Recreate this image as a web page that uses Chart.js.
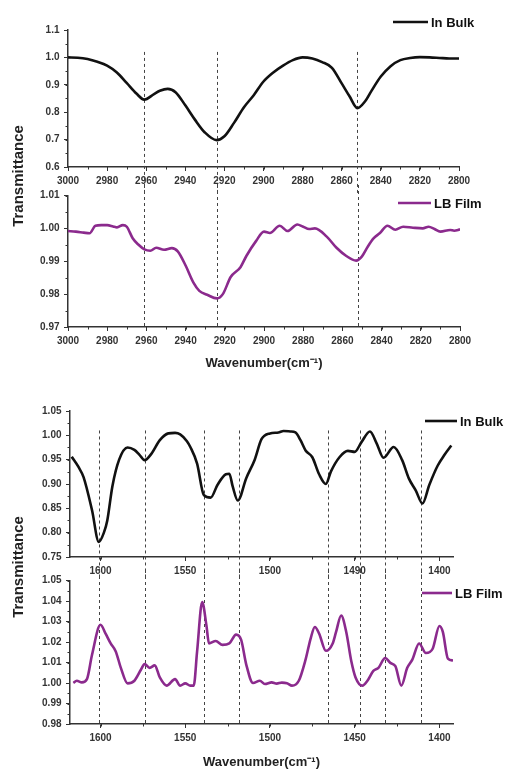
<!DOCTYPE html>
<html>
<head>
<meta charset="utf-8">
<title>FTIR Transmittance</title>
<script src="https://cdn.jsdelivr.net/npm/chart.js@4.4.0/dist/chart.umd.min.js"></script>
<style>
html, body { margin: 0; padding: 0; background: #fff; }
#wrap { position: relative; width: 506px; height: 772px; overflow: hidden; }
canvas { position: absolute; left: 0; }
.ylab {
  position: absolute;
  font: bold 15px "Liberation Sans", Arial, sans-serif;
  color: #222;
  white-space: nowrap;
  transform: translate(-50%, -50%) rotate(-90deg);
}
</style>
</head>
<body>
<div id="wrap">
  <canvas id="c1" width="506" height="200" style="top:0px"></canvas>
  <canvas id="c2" width="506" height="190" style="top:185px"></canvas>
  <canvas id="c3" width="506" height="195" style="top:390px"></canvas>
  <canvas id="c4" width="506" height="202" style="top:570px"></canvas>
  <div class="ylab" style="left:17px; top:176px">Transmittance</div>
  <div class="ylab" style="left:17px; top:567px">Transmittance</div>
</div>

<script>
// --- data ---
const bulkHighWn = [3000, 2995, 2990, 2985, 2980, 2975, 2970, 2965, 2961, 2956, 2953, 2949, 2945, 2940, 2935, 2930, 2924, 2920, 2915, 2910, 2905, 2900, 2895, 2890, 2885, 2880, 2875, 2870, 2865, 2860, 2856, 2852, 2848, 2845, 2840, 2835, 2830, 2825, 2820, 2815, 2810, 2805, 2800];
const bulkHighT  = [1.000, 0.999, 0.994, 0.984, 0.970, 0.945, 0.907, 0.868, 0.846, 0.866, 0.878, 0.885, 0.873, 0.825, 0.772, 0.726, 0.698, 0.712, 0.762, 0.818, 0.862, 0.912, 0.945, 0.970, 0.990, 1.000, 0.996, 0.983, 0.962, 0.905, 0.858, 0.815, 0.840, 0.875, 0.930, 0.968, 0.990, 0.998, 1.001, 1.000, 0.998, 0.996, 0.996];

const lbHighWn = [3000, 2996, 2992, 2989, 2986, 2983, 2980, 2977, 2975, 2972, 2970, 2967, 2964, 2961, 2958, 2955, 2951, 2947, 2944, 2940, 2936, 2933, 2929, 2924, 2921, 2917, 2912, 2909, 2904, 2900, 2897, 2892, 2888, 2883, 2880, 2877, 2874, 2868, 2863, 2858, 2853, 2850, 2847, 2844, 2841, 2837, 2833, 2829, 2824, 2819, 2816, 2813, 2810, 2805, 2803, 2800];
const lbHighT  = [0.9992, 0.9990, 0.9987, 0.9985, 1.0008, 1.0010, 1.0010, 1.0006, 1.0003, 1.0010, 1.0005, 0.9970, 0.9950, 0.9936, 0.9932, 0.9941, 0.9935, 0.9940, 0.9930, 0.9887, 0.9835, 0.9810, 0.9798, 0.9787, 0.9800, 0.9852, 0.9882, 0.9916, 0.9962, 0.9990, 0.9986, 1.0008, 0.9992, 1.0012, 1.0005, 0.9998, 1.0000, 0.9975, 0.9941, 0.9916, 0.9902, 0.9915, 0.9945, 0.9970, 0.9985, 1.0008, 0.9996, 1.0005, 1.0002, 1.0000, 1.0005, 0.9998, 0.9990, 0.9995, 0.9993, 0.9997];

const bulkLowWn = [1617, 1613, 1610, 1605, 1601, 1598, 1596, 1593, 1589, 1584, 1580, 1577, 1574, 1570, 1565, 1560, 1556, 1553, 1549, 1547, 1543, 1539, 1535, 1531, 1526, 1524, 1522, 1519, 1514, 1509, 1505, 1500, 1495, 1492, 1488, 1485, 1482, 1479, 1475, 1471, 1467, 1464, 1459, 1454, 1450, 1446, 1441, 1437, 1433, 1427, 1422, 1418, 1414, 1410, 1406, 1401, 1397, 1393];
const bulkLowT  = [0.956, 0.935, 0.914, 0.846, 0.781, 0.800, 0.825, 0.895, 0.950, 0.975, 0.970, 0.960, 0.949, 0.962, 0.990, 1.004, 1.005, 1.002, 0.988, 0.976, 0.942, 0.877, 0.872, 0.898, 0.920, 0.921, 0.895, 0.866, 0.912, 0.950, 0.992, 1.004, 1.006, 1.009, 1.008, 1.006, 0.990, 0.969, 0.955, 0.920, 0.900, 0.926, 0.955, 0.968, 0.966, 0.986, 1.008, 0.983, 0.954, 0.976, 0.949, 0.911, 0.887, 0.860, 0.898, 0.938, 0.960, 0.979];

const lbLowWn = [1616, 1614, 1611, 1608, 1605, 1600, 1597, 1594, 1591, 1588, 1584, 1580, 1576, 1574, 1571, 1568, 1565, 1561, 1556, 1553, 1550, 1547, 1545, 1543, 1540, 1537.5, 1536, 1532, 1528, 1524, 1520, 1517, 1514, 1510, 1506, 1503, 1499, 1496, 1493, 1490, 1487, 1483, 1479, 1476, 1473.5, 1471, 1467, 1463, 1461, 1458, 1455, 1452, 1449.5, 1445.5, 1442.5, 1439, 1436, 1432, 1429, 1426, 1422.5, 1419, 1416, 1412, 1408, 1404, 1400, 1398, 1395, 1392];
const lbLowT  = [1.0000, 1.0011, 1.0003, 1.0019, 1.0138, 1.0284, 1.0241, 1.0193, 1.0154, 1.0074, 0.9998, 1.0011, 1.0067, 1.0093, 1.0074, 1.0086, 1.0027, 0.9987, 1.0019, 0.9987, 0.9998, 0.9987, 0.9987, 1.0154, 1.0395, 1.0281, 1.0193, 1.0205, 1.0186, 1.0193, 1.0236, 1.0210, 1.0090, 1.0000, 1.0011, 0.9995, 1.0003, 0.9997, 1.0002, 0.9999, 0.9987, 1.0011, 1.0114, 1.0217, 1.0273, 1.0241, 1.0157, 1.0193, 1.0249, 1.0329, 1.0249, 1.0106, 1.0027, 0.9987, 1.0011, 1.0059, 1.0074, 1.0122, 1.0098, 1.0082, 0.9987, 1.0074, 1.0114, 1.0193, 1.0146, 1.0167, 1.0278, 1.0249, 1.0119, 1.0110];

// dashed marker positions (cm-1)
const highGuides = [2961, 2924, 2852];
const lowGuides = [1601, 1574, 1539, 1518, 1466, 1447, 1432, 1411];

// tick labels of the low-range bulk panel, as printed
const lowTickValues = [1600, 1550, 1500, 1450, 1400];
const bulkLowTickLabels = ['1600', '1550', '1500', '1490', '1400'];

// --- plugins ---
const FONT = '"Liberation Sans", Arial, sans-serif';
Chart.defaults.font.family = FONT;

const minorTicks = {
  id: 'minorTicks',
  afterDraw(chart, args, o) {
    const ctx = chart.ctx;
    ctx.save();
    ctx.strokeStyle = '#333';
    ctx.lineWidth = 1;
    ['x', 'y'].forEach(k => {
      const step = o[k];
      if (!step) return;
      const s = chart.scales[k];
      const a = Math.ceil(s.min / step - 1e-6), b = Math.floor(s.max / step + 1e-6);
      for (let i = a; i <= b; i++) {
        const p = Math.round(s.getPixelForValue(i * step)) + 0.5;
        ctx.beginPath();
        if (k === 'x') { ctx.moveTo(p, s.top); ctx.lineTo(p, s.top + 2.5); }
        else { ctx.moveTo(s.right, p); ctx.lineTo(s.right - 2.5, p); }
        ctx.stroke();
      }
    });
    ctx.restore();
  }
};

const guides = {
  id: 'guides',
  beforeDatasetsDraw(chart, args, o) {
    if (!o.values) return;
    const { ctx, chartArea } = chart;
    const xs = chart.scales.x, ys = chart.scales.y;
    const y1 = o.from == null ? 0 : ys.getPixelForValue(o.from);
    const y2 = chartArea.bottom + (o.below || 0);
    ctx.save();
    ctx.setLineDash([3, 3]);
    ctx.strokeStyle = '#444';
    ctx.lineWidth = 1;
    o.values.forEach(v => {
      const x = Math.round(xs.getPixelForValue(v)) + 0.5;
      ctx.beginPath();
      ctx.moveTo(x, y1);
      ctx.lineTo(x, y2);
      ctx.stroke();
    });
    ctx.restore();
  }
};

const tag = {
  id: 'tag',
  afterDraw(chart, args, o) {
    if (o.y == null) return;
    const ds = chart.data.datasets[0];
    const ctx = chart.ctx;
    ctx.save();
    ctx.strokeStyle = ds.borderColor;
    ctx.lineWidth = 2.6;
    ctx.beginPath();
    ctx.moveTo(o.x1, o.y);
    ctx.lineTo(o.x2, o.y);
    ctx.stroke();
    ctx.fillStyle = '#111';
    ctx.font = 'bold 13px ' + FONT;
    ctx.textBaseline = 'middle';
    ctx.fillText(ds.label, o.x2 + 3, o.y + 1);
    ctx.restore();
  }
};

Chart.register(minorTicks, guides, tag);

// --- one panel ---
function panel(p) {
  const canvas = document.getElementById(p.id);
  const H = canvas.height;
  const tickFont = { size: 10, weight: 'bold' };
  const axisCommon = {
    border: { display: true, color: '#333', width: 1.5 },
    grid: { drawOnChartArea: false, drawTicks: true, tickLength: 4, color: '#333' }
  };
  return new Chart(canvas, {
    type: 'line',
    data: {
      datasets: [{
        label: p.label,
        data: p.wn.map((w, i) => ({ x: w, y: p.t[i] })),
        borderColor: p.color,
        borderWidth: 2.6,
        pointRadius: 0,
        fill: false,
        cubicInterpolationMode: 'monotone'
      }]
    },
    options: {
      responsive: false,
      animation: false,
      layout: { padding: { top: p.box.t, right: 506 - p.box.r, left: 0, bottom: 0 } },
      scales: {
        x: Object.assign({}, axisCommon, {
          type: 'linear',
          reverse: true,
          min: p.xmin, max: p.xmax,
          afterFit: s => { s.height = H - p.box.b; },
          ticks: {
            stepSize: p.xstep, includeBounds: false, autoSkip: false, maxRotation: 0,
            padding: 4, color: '#333', font: tickFont,
            callback: p.xlabel || (v => String(v))
          },
          title: p.xtitle ? {
            display: true, text: p.xtitle, color: '#222',
            font: { size: 13, weight: 'bold' }, padding: { top: 0, bottom: p.titlePad }
          } : { display: false }
        }),
        y: Object.assign({}, axisCommon, {
          type: 'linear',
          min: p.ymin, max: p.ymax,
          afterFit: s => { s.width = p.box.l; },
          ticks: {
            stepSize: p.ystep, includeBounds: false, padding: 4.5, color: '#333', font: tickFont,
            callback: v => v.toFixed(p.ydec)
          }
        })
      },
      plugins: {
        legend: { display: false },
        tooltip: { enabled: false },
        minorTicks: { x: p.xstep / 2, y: p.ystep / 2 },
        guides: { values: p.guides, from: p.guideFrom, below: p.guideBelow },
        tag: p.tag
      }
    }
  });
}

panel({
  id: 'c1', label: 'In Bulk', color: '#111', wn: bulkHighWn, t: bulkHighT,
  box: { l: 68, r: 459, t: 30, b: 167 },
  xmin: 2800, xmax: 3000, xstep: 20, ymin: 0.6, ymax: 1.1, ystep: 0.1, ydec: 1,
  guides: highGuides, guideFrom: 1.02, guideBelow: 26,
  tag: { x1: 393, x2: 428, y: 22 }
});

panel({
  id: 'c2', label: 'LB Film', color: '#8b2a8d', wn: lbHighWn, t: lbHighT,
  box: { l: 68, r: 460, t: 6, b: 142 },
  xmin: 2800, xmax: 3000, xstep: 20, ymin: 0.97, ymax: 1.01, ystep: 0.01, ydec: 2,
  guides: highGuides, guideFrom: null, guideBelow: 0,
  xtitle: 'Wavenumber(cm\u207B\u00B9)', titlePad: 4,
  tag: { x1: 398, x2: 431, y: 18 }
});

panel({
  id: 'c3', label: 'In Bulk', color: '#111', wn: bulkLowWn, t: bulkLowT,
  box: { l: 70, r: 453, t: 21, b: 167 },
  xmin: 1392, xmax: 1618, xstep: 50, ymin: 0.75, ymax: 1.05, ystep: 0.05, ydec: 2,
  xlabel: v => bulkLowTickLabels[lowTickValues.indexOf(Math.round(v))] || '',
  guides: lowGuides, guideFrom: 1.01, guideBelow: 21,
  tag: { x1: 425, x2: 457, y: 31 }
});

panel({
  id: 'c4', label: 'LB Film', color: '#8b2a8d', wn: lbLowWn, t: lbLowT,
  box: { l: 70, r: 453, t: 7, b: 154 },
  xmin: 1392, xmax: 1618, xstep: 50, ymin: 0.98, ymax: 1.05, ystep: 0.01, ydec: 2,
  guides: lowGuides, guideFrom: null, guideBelow: 0,
  xtitle: 'Wavenumber(cm\u207B\u00B9)', titlePad: 2,
  tag: { x1: 422, x2: 452, y: 23 }
});
</script>
</body>
</html>
